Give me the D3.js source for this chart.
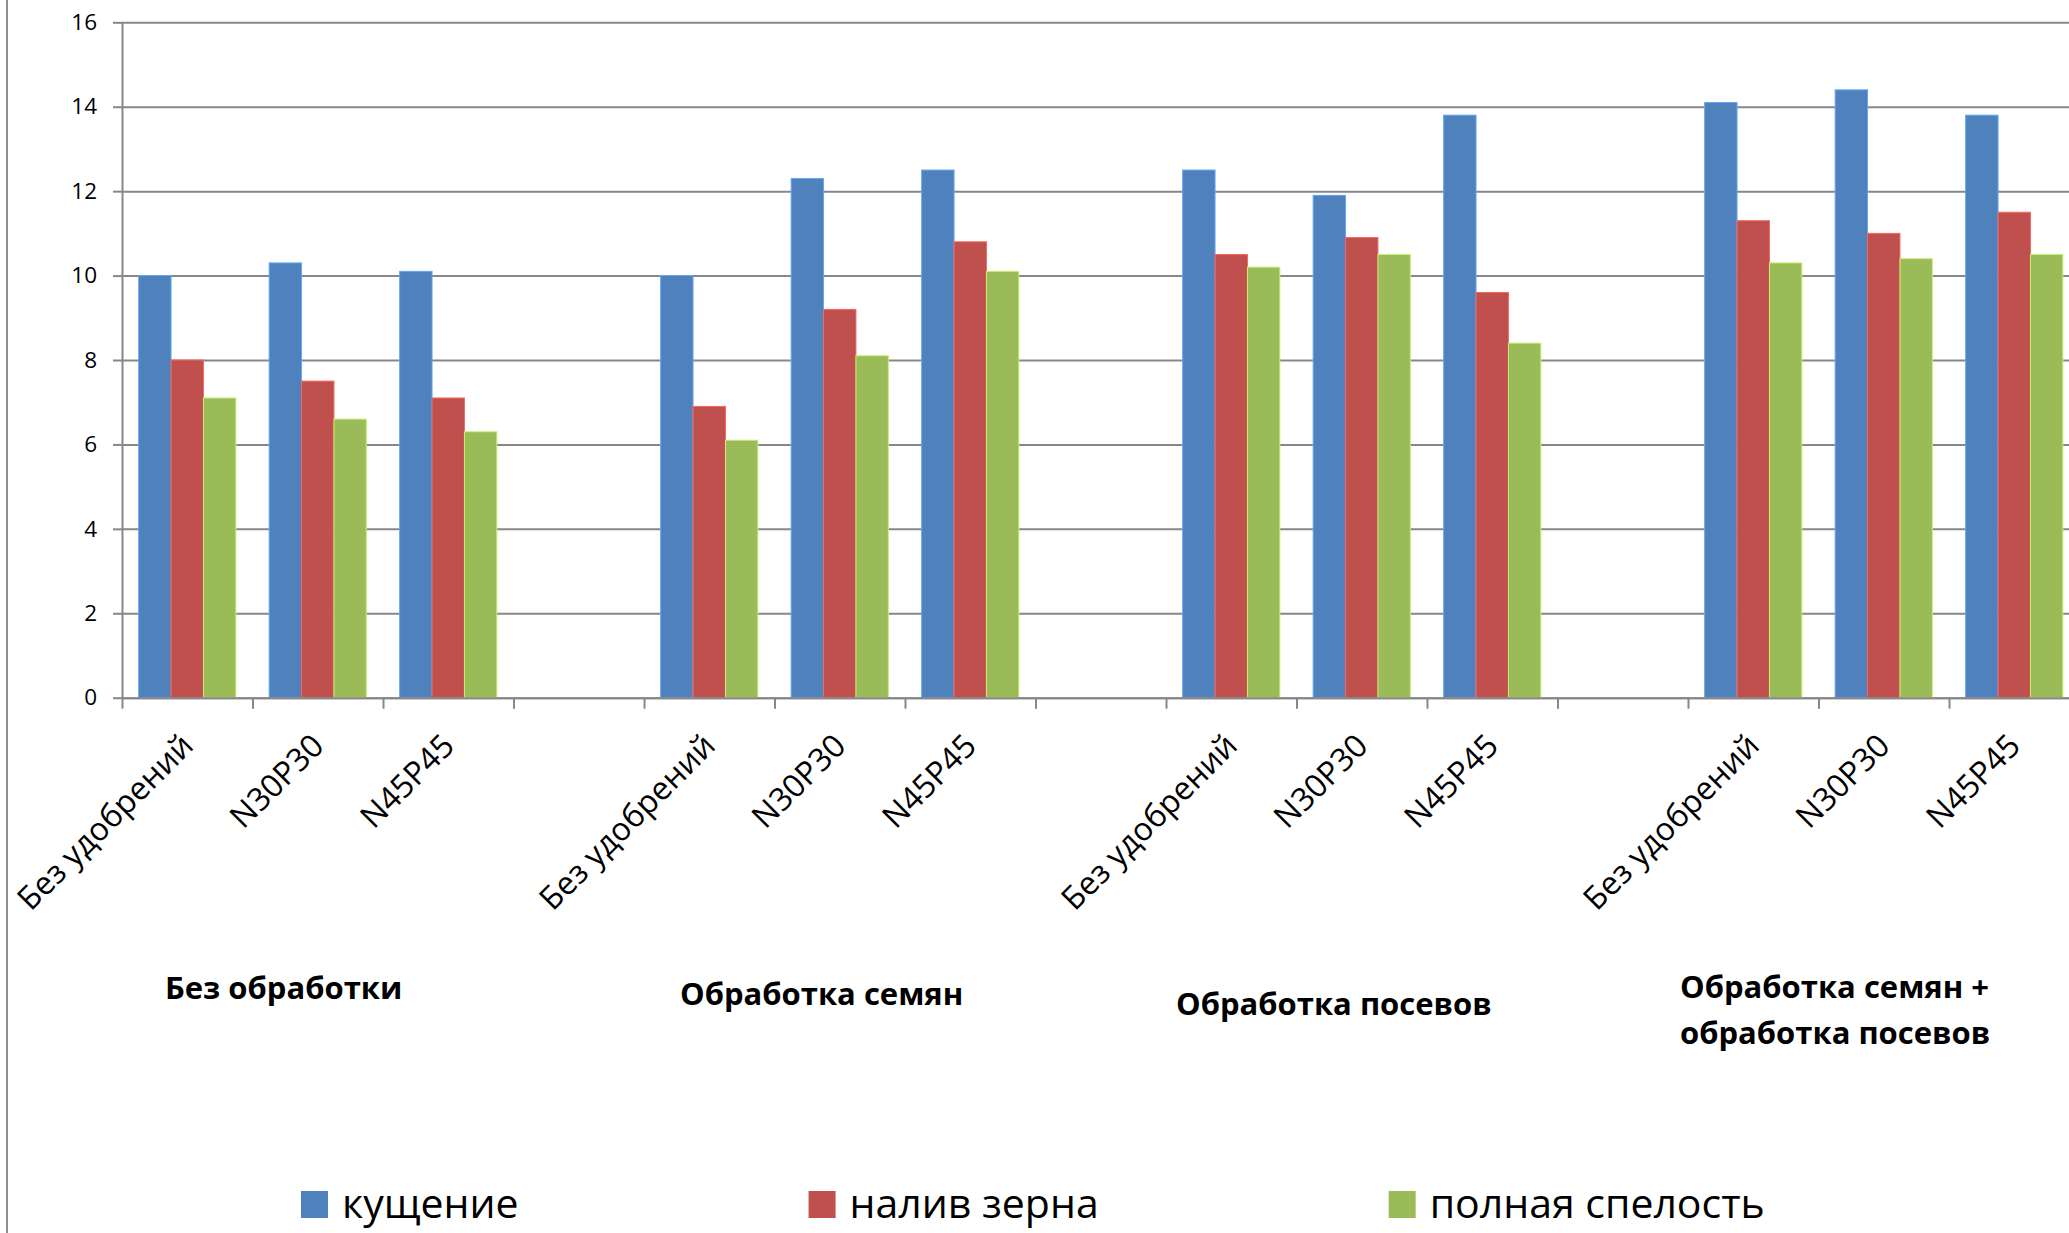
<!DOCTYPE html>
<html>
<head>
<meta charset="utf-8">
<script src="https://cdn.jsdelivr.net/npm/d3@7"></script>
<style>
  html, body { margin: 0; padding: 0; background: #ffffff; overflow: hidden; }
  svg { display: block; font-family: "Open Sans", "Noto Sans", sans-serif; }
</style>
</head>
<body>
<svg id="chart" width="2069" height="1233"></svg>
<script>
// Treatments (outer groups) and fertilizer variants (inner categories)
const treatments = ["Без обработки", "Обработка семян", "Обработка посевов", "Обработка семян +\nобработка посевов"];
const fertilizers = ["Без удобрений", "N30P30", "N45P45"];

// Growth phases (series)
const seriesNames = ["кущение", "налив зерна", "полная спелость"];

// Values in treatment order, three fertilizer variants per treatment
const tillering  = [10.0, 10.3, 10.1,  10.0, 12.3, 12.5,  12.5, 11.9, 13.8,  14.1, 14.4, 13.8];
const grainFill  = [ 8.0,  7.5,  7.1,   6.9,  9.2, 10.8,  10.5, 10.9,  9.6,  11.3, 11.0, 11.5];
const fullRipe   = [ 7.1,  6.6,  6.3,   6.1,  8.1, 10.1,  10.2, 10.5,  8.4,  10.3, 10.4, 10.5];

const yTicks = [0, 2, 4, 6, 8, 10, 12, 14, 16];

// ---- styling / layout ----
const colors = ["#4f81bd", "#c0504d", "#9bbb59"];
const gridColor = "#878787";
const plotLeft = 122, plotTop = 22.3, plotBottom = 697.7, slotWidth = 130.5;
const slotsPerGroup = fertilizers.length + 1;                 // one empty slot between treatments
const slotCount = treatments.length * slotsPerGroup - 1;

// treatment caption placement: offset from the group's first slot, baseline y
const captionLayout = [
  { dx: 43, y: 999 },
  { dx: 36, y: 1005 },
  { dx: 10, y: 1015 },
  { dx: -8, y: 998 }
];

const svg = d3.select("#chart");

const x = d3.scaleBand()
  .domain(d3.range(slotCount))
  .range([plotLeft, plotLeft + slotCount * slotWidth])
  .paddingInner(0).paddingOuter(0);

const xEdge = d3.scaleLinear()
  .domain([0, slotCount])
  .range([plotLeft, plotLeft + slotCount * slotWidth]);

const xSeries = d3.scaleBand()
  .domain(d3.range(seriesNames.length))
  .range([0, x.bandwidth()])
  .paddingInner(0).paddingOuter(0.514);

const y = d3.scaleLinear().domain([0, 16]).range([plotBottom, plotTop]);

// outer chart border (left edge)
svg.append("line")
  .attr("x1", 7).attr("x2", 7).attr("y1", 0).attr("y2", 1233)
  .attr("stroke", "#8e8e8e").attr("stroke-width", 2);

// horizontal gridlines
svg.append("g")
  .attr("transform", `translate(${plotLeft},0)`)
  .call(d3.axisLeft(y).tickValues(yTicks).tickSize(-(2069 - plotLeft + 20)).tickFormat(""))
  .call(g => g.select(".domain").remove())
  .call(g => g.selectAll(".tick line").attr("stroke", gridColor).attr("stroke-width", 2));

// y axis with labels
svg.append("g")
  .attr("transform", `translate(${plotLeft},0)`)
  .call(d3.axisLeft(y).tickValues(yTicks).tickSize(9).tickSizeOuter(0).tickPadding(16))
  .call(g => g.select(".domain").attr("stroke", gridColor).attr("stroke-width", 2))
  .call(g => g.selectAll(".tick line").attr("stroke", gridColor).attr("stroke-width", 2))
  .call(g => g.selectAll(".tick text")
    .attr("fill", "#000").attr("font-size", 22.5)
    .attr("font-family", "'Open Sans', sans-serif"));

// data rows, one per slot that holds bars
const rows = [];
treatments.forEach((t, gi) => {
  fertilizers.forEach((f, fi) => {
    const k = gi * fertilizers.length + fi;
    rows.push({
      slot: gi * slotsPerGroup + fi,
      fertilizer: f,
      values: [tillering[k], grainFill[k], fullRipe[k]]
    });
  });
});

// bars
const slotG = svg.append("g").selectAll("g")
  .data(rows).join("g")
  .attr("transform", d => `translate(${x(d.slot)},0)`);

slotG.selectAll("rect")
  .data(d => d.values.map((v, i) => ({ v, i })))
  .join("rect")
  .attr("x", d => xSeries(d.i))
  .attr("width", xSeries.bandwidth())
  .attr("y", d => y(d.v))
  .attr("height", d => y(0) - y(d.v))
  .attr("fill", d => colors[d.i])
  .attr("stroke", d => d3.color(colors[d.i]).brighter(0.7))
  .attr("stroke-width", 1);

// category axis: line plus tick marks between categories
svg.append("g")
  .attr("transform", `translate(0,${plotBottom})`)
  .call(d3.axisBottom(xEdge).tickValues(d3.range(slotCount + 1)).tickSize(11).tickSizeOuter(0).tickFormat(""))
  .call(g => g.select(".domain").attr("stroke", gridColor).attr("stroke-width", 2))
  .call(g => g.selectAll(".tick line").attr("stroke", gridColor).attr("stroke-width", 2));

// rotated fertilizer labels
svg.append("g").selectAll("text")
  .data(rows).join("text")
  .attr("transform", d => `translate(${x(d.slot) + x.bandwidth() / 2 + 8},${plotBottom + 50}) rotate(-45)`)
  .attr("text-anchor", "end")
  .attr("font-size", 32)
  .attr("fill", "#000")
  .text(d => d.fertilizer);

// treatment captions
svg.append("g").selectAll("text")
  .data(treatments).join("text")
  .attr("x", (d, i) => x(i * slotsPerGroup) + captionLayout[i].dx)
  .attr("y", (d, i) => captionLayout[i].y)
  .attr("font-size", 31)
  .attr("font-weight", "bold")
  .attr("fill", "#000")
  .each(function (d) {
    const lines = d.split("\n");
    const t = d3.select(this);
    lines.forEach((ln, li) => {
      t.append("tspan")
        .attr("x", t.attr("x"))
        .attr("dy", li === 0 ? 0 : 46)
        .text(ln);
    });
  });

// legend
const legend = svg.append("g");
let lx = 301;
seriesNames.forEach((name, i) => {
  legend.append("rect")
    .attr("x", lx).attr("y", 1191)
    .attr("width", 27).attr("height", 27)
    .attr("fill", colors[i]);
  const txt = legend.append("text")
    .attr("x", lx + 41).attr("y", 1218)
    .attr("font-size", 41)
    .attr("fill", "#000")
    .text(name);
  const w = txt.node().getComputedTextLength();
  lx = lx + 41 + w + 290;
});
</script>
</body>
</html>
